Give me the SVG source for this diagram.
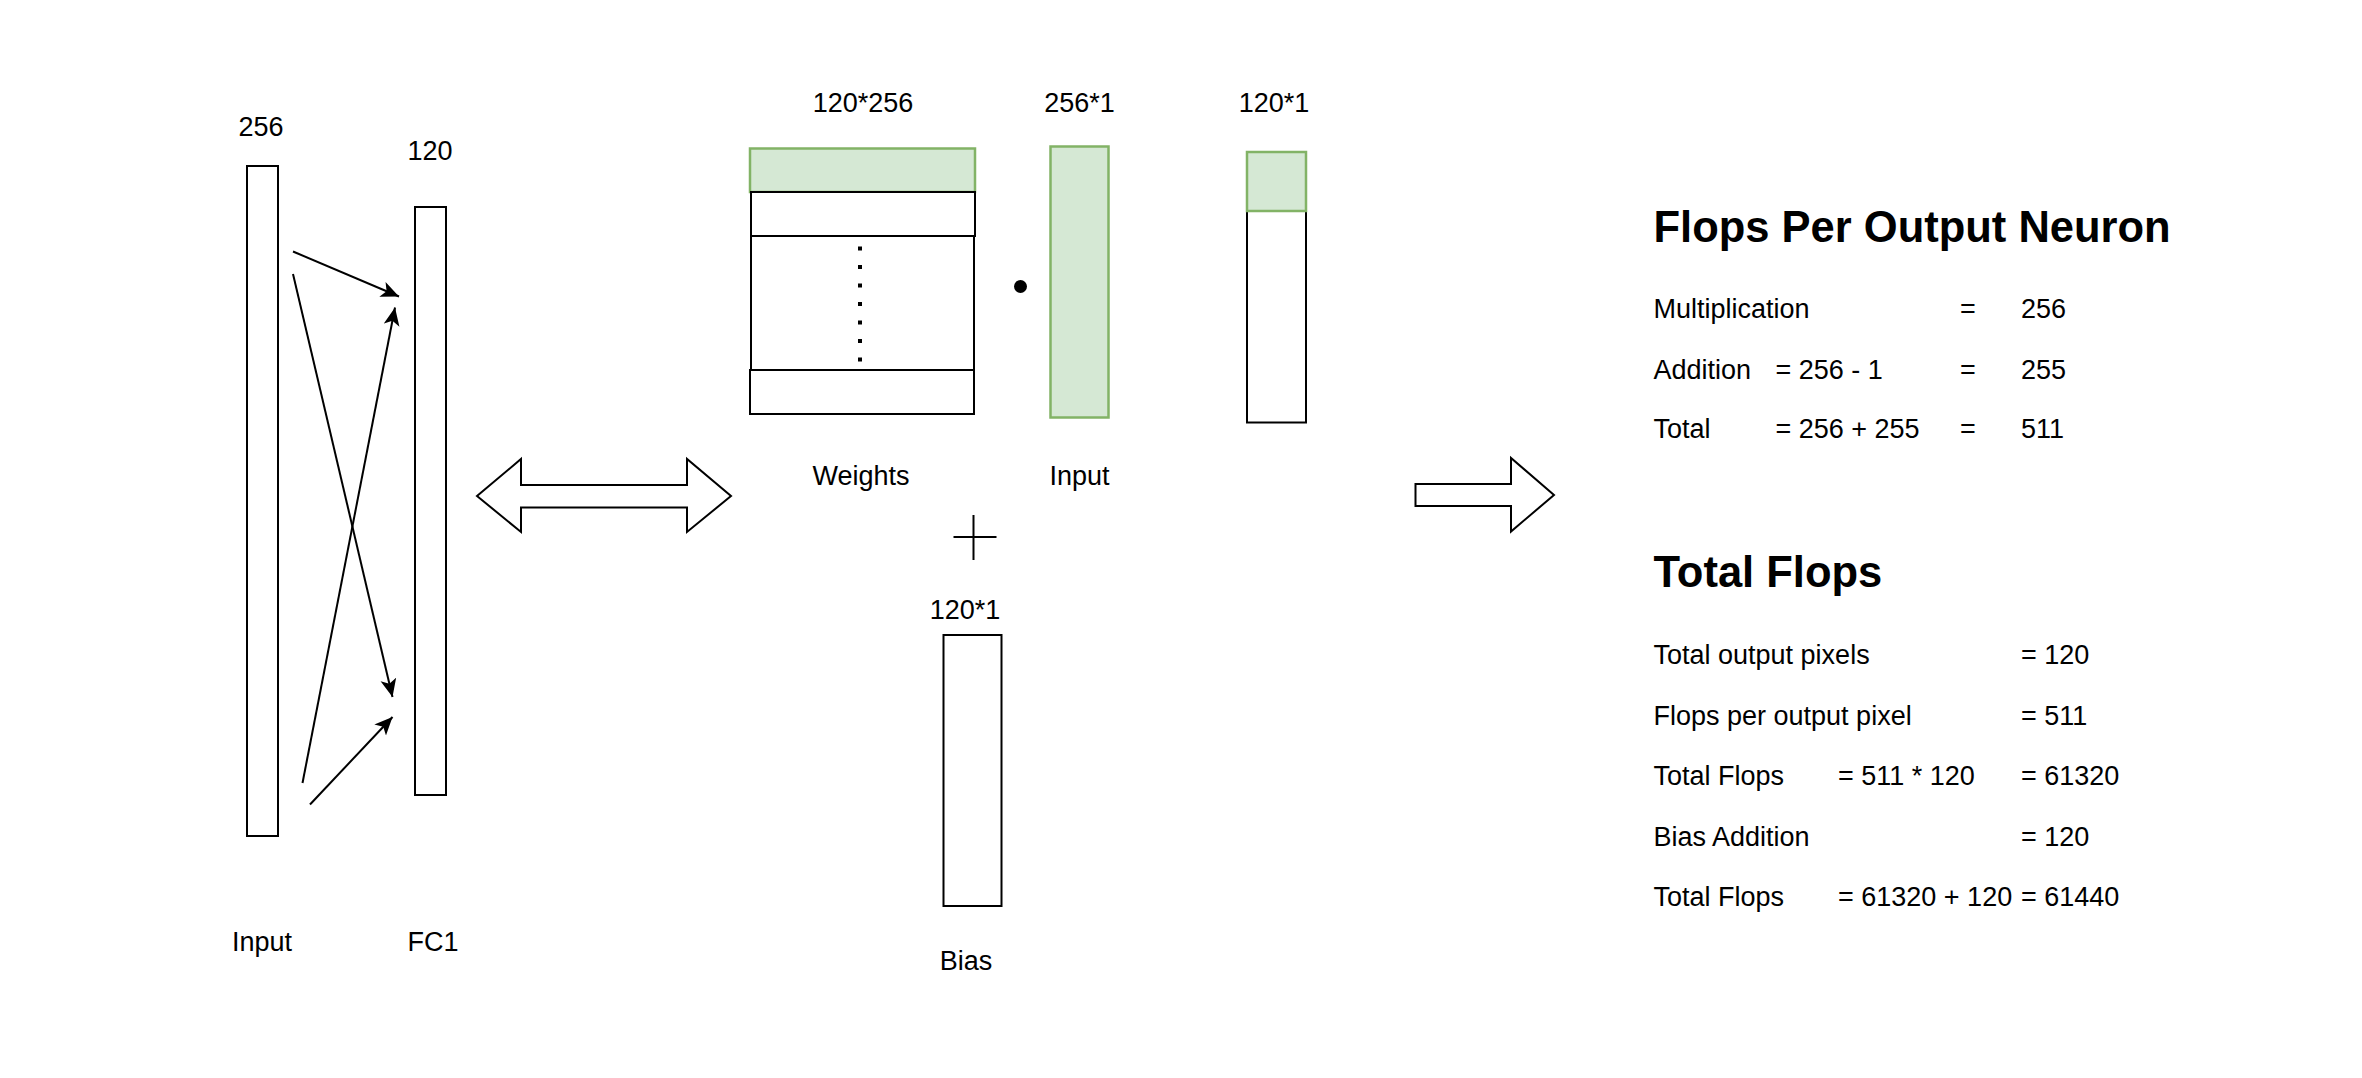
<svg xmlns="http://www.w3.org/2000/svg" width="2362" height="1078" viewBox="0 0 2362 1078">
<style>
text{font-family:"Liberation Sans",Arial,Helvetica,sans-serif;font-size:27px;fill:#000}
.c{text-anchor:middle}
.h{font-size:43.5px;font-weight:bold}
.box{fill:#fff;stroke:#000;stroke-width:2}
.green{fill:#d5e8d4;stroke:#82b366;stroke-width:2.5}
.edge{fill:none;stroke:#000;stroke-width:2}
.big{fill:#fff;stroke:#000;stroke-width:2;stroke-linejoin:miter}
</style>
<defs>
<marker id="arr" markerUnits="userSpaceOnUse" markerWidth="22" markerHeight="18" refX="18" refY="8" orient="auto">
<path d="M0,0 L18,8 L0,16 L4.5,8 Z" fill="#000"/>
</marker>
</defs>
<rect width="2362" height="1078" fill="#fff"/>

<g id="input-layer">
<rect class="box" x="247" y="166" width="31" height="670"/>
<text class="c" x="261" y="136">256</text>
<text class="c" x="262" y="951">Input</text>
</g>
<g id="fc1-layer">
<rect class="box" x="415" y="207" width="31" height="588"/>
<text class="c" x="430" y="160">120</text>
<text class="c" x="433" y="951">FC1</text>
</g>

<g id="connectors">
<line class="edge" x1="293" y1="251.5" x2="399" y2="296.5" marker-end="url(#arr)"/>
<line class="edge" x1="293" y1="274" x2="392.5" y2="697" marker-end="url(#arr)"/>
<line class="edge" x1="302.5" y1="783" x2="395" y2="307.5" marker-end="url(#arr)"/>
<line class="edge" x1="310" y1="804.5" x2="392.5" y2="717" marker-end="url(#arr)"/>
</g>

<g id="double-arrow">
<path class="big" d="M477,496 L521,459 L521,485 L687,485 L687,459 L731,496 L687,532 L687,507.5 L521,507.5 L521,532 Z"/>
</g>

<g id="weights">
<rect class="green" x="750" y="148.5" width="225" height="43.5"/>
<rect class="box" x="751" y="192" width="224" height="44"/>
<rect class="box" x="751" y="236" width="223" height="134"/>
<rect class="box" x="750" y="370" width="224" height="44"/>
<g fill="#000">
<rect x="858" y="246.5" width="4" height="4"/>
<rect x="858" y="265" width="4" height="4"/>
<rect x="858" y="283.5" width="4" height="4"/>
<rect x="858" y="302" width="4" height="4"/>
<rect x="858" y="320.5" width="4" height="4"/>
<rect x="858" y="339" width="4" height="4"/>
<rect x="858" y="357.5" width="4" height="4"/>
</g>
<text class="c" x="863" y="112">120*256</text>
<text class="c" x="861" y="485">Weights</text>
</g>

<g id="dot-operator">
<circle cx="1020.5" cy="286.5" r="6.5" fill="#000"/>
</g>

<g id="input-vector">
<rect class="green" x="1050.5" y="146.5" width="58" height="271"/>
<text class="c" x="1079.5" y="112">256*1</text>
<text class="c" x="1079.5" y="485">Input</text>
</g>

<g id="output-vector">
<rect class="box" x="1247" y="152" width="59" height="270.5"/>
<rect class="green" x="1247" y="152" width="59" height="59"/>
<text class="c" x="1274" y="112">120*1</text>
</g>

<g id="plus-operator">
<line class="edge" x1="953.5" y1="537" x2="996.5" y2="537"/>
<line class="edge" x1="973.5" y1="515" x2="973.5" y2="560"/>
</g>

<g id="bias">
<rect class="box" x="943.5" y="635" width="58" height="271"/>
<text class="c" x="965" y="619">120*1</text>
<text class="c" x="966" y="970">Bias</text>
</g>

<g id="result-arrow">
<path class="big" d="M1415.5,484 L1511,484 L1511,458 L1554,495 L1511,531.5 L1511,506 L1415.5,506 Z"/>
</g>

<g id="flops-per-neuron">
<text class="h" x="1653.5" y="241.5">Flops Per Output Neuron</text>
<text x="1653.5" y="318">Multiplication</text>
<text x="1960" y="318">=</text>
<text x="2021" y="318">256</text>
<text x="1653.5" y="379">Addition</text>
<text x="1775.5" y="379">= 256 - 1</text>
<text x="1960" y="379">=</text>
<text x="2021" y="379">255</text>
<text x="1653.5" y="438">Total</text>
<text x="1775.5" y="438">= 256 + 255</text>
<text x="1960" y="438">=</text>
<text x="2021" y="438">511</text>
</g>

<g id="total-flops">
<text class="h" x="1653.5" y="587">Total Flops</text>
<text x="1653.5" y="664">Total output pixels</text>
<text x="2021" y="664">= 120</text>
<text x="1653.5" y="724.5">Flops per output pixel</text>
<text x="2021" y="724.5">= 511</text>
<text x="1653.5" y="785">Total Flops</text>
<text x="1838" y="785">= 511 * 120</text>
<text x="2021" y="785">= 61320</text>
<text x="1653.5" y="845.5">Bias Addition</text>
<text x="2021" y="845.5">= 120</text>
<text x="1653.5" y="906">Total Flops</text>
<text x="1838" y="906">= 61320 + 120</text>
<text x="2021" y="906">= 61440</text>
</g>
</svg>
